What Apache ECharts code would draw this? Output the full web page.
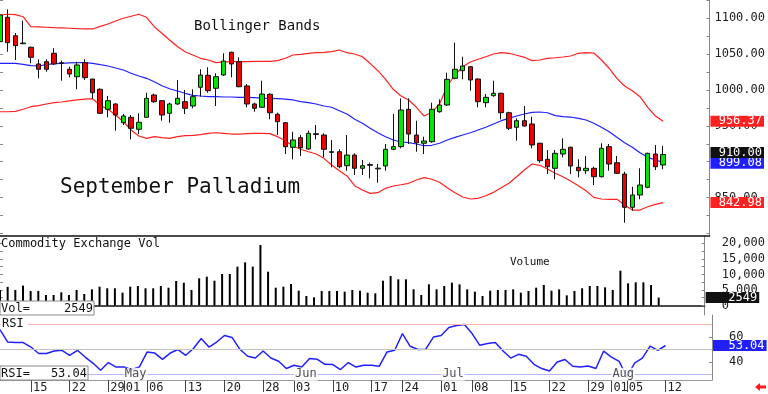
<!DOCTYPE html>
<html><head><meta charset="utf-8">
<script src="https://cdn.jsdelivr.net/npm/echarts@6/dist/echarts.min.js"></script>
<style>html,body{margin:0;padding:0;background:#fff}#c{width:768px;height:394px}</style>
</head><body><div id="c"></div>
<script>
const dates = ['04-09','04-10','04-11','04-12','04-15','04-16','04-17','04-18','04-19','04-22','04-23','04-24','04-25','04-26','04-29','04-30',
'05-01','05-02','05-03','05-06','05-07','05-08','05-09','05-10','05-13','05-14','05-15','05-16','05-17','05-20','05-21','05-22','05-23','05-24','05-28','05-29','05-30','05-31',
'06-03','06-04','06-05','06-06','06-07','06-10','06-11','06-12','06-13','06-14','06-17','06-18','06-20','06-21','06-24','06-25','06-26','06-27','06-28',
'07-01','07-02','07-03','07-05','07-08','07-09','07-10','07-11','07-12','07-15','07-16','07-17','07-18','07-19','07-22','07-23','07-24','07-25','07-26','07-29','07-30','07-31',
'08-01','08-02','08-05','08-06','08-07','08-08','08-09','08-12','08-13','08-14','08-15','08-16','08-19','08-20'];

const opens = [1067.4,1101.4,1075.7,1064.5,1059.6,1036.3,1039.5,1051.2,1037.0,1028.9,1018.5,1038.1,1015.3,1001.0,973.1,980.5,954.4,961.9,945.2,961.9,
993.0,985.1,967.5,980.5,983.7,977.7,1003.8,1020.5,1002.4,1020.9,1052.6,1039.5,1005.6,980.5,975.9,994.0,966.1,954.4,920.1,933.5,
917.7,939.0,937.2,913.0,913.9,894.4,909.3,890.8,896.0,890.0,894.0,917.3,921.0,973.1,937.2,925.7,927.9,969.7,979.1,1016.3,
1026.9,1032.5,1015.3,982.3,992.0,995.4,968.3,948.0,957.2,952.6,925.7,903.3,890.8,910.7,920.1,892.2,887.4,890.8,879.1,921.0,
898.6,882.8,836.4,853.6,864.3,910.7,895.4];
const highs = [1114.0,1112.5,1079.5,1096.7,1060.4,1042.8,1042.8,1058.2,1040.9,1032.5,1039.5,1042.8,1015.3,1002.4,991.6,981.5,966.5,965.1,967.5,996.2,
995.0,986.0,982.3,1014.0,1000.0,1001.0,1028.9,1031.7,1023.3,1051.2,1053.4,1045.6,1008.4,982.3,1013.0,995.4,968.3,955.0,941.8,937.2,
943.2,951.2,939.6,930.3,917.3,937.2,911.7,902.4,898.6,896.8,924.7,966.5,988.4,988.4,957.2,934.9,982.3,987.0,1024.1,1066.0,
1046.4,1033.0,1016.0,994.4,1013.0,996.2,969.7,960.5,977.7,962.8,926.5,916.3,916.3,932.6,921.0,903.3,908.0,893.0,925.7,924.7,
908.0,886.0,865.1,890.8,912.6,923.3,921.9];
const lows = [1062.8,1053.4,1041.8,1064.0,1037.2,1016.3,1025.5,1034.9,1013.0,1017.7,1001.0,1014.0,987.9,966.5,961.9,943.2,951.2,931.2,938.6,961.9,
982.0,957.2,954.4,979.1,966.5,974.5,990.7,996.2,977.7,1019.5,1017.7,1003.8,975.9,969.7,975.9,959.1,937.2,910.7,903.3,908.0,
917.0,931.2,906.1,892.2,890.8,887.4,881.5,881.5,876.8,870.7,887.4,916.3,918.7,924.7,913.9,910.7,926.5,968.3,977.7,1014.9,
1014.9,999.0,975.9,975.9,990.7,959.1,944.2,929.3,948.8,918.7,898.6,882.8,875.5,906.1,882.8,878.2,882.8,867.5,878.0,887.4,
882.8,814.9,831.7,847.6,862.9,888.4,889.4];
const closes = [1104.6,1066.0,1061.8,1065.5,1045.6,1028.9,1028.9,1036.3,1038.0,1022.3,1034.9,1017.2,996.2,967.5,985.1,965.1,963.7,946.6,955.0,988.4,
983.7,965.1,980.5,988.4,974.5,990.7,1020.9,999.0,1018.5,1040.4,1036.3,1004.6,980.5,974.5,994.4,968.3,955.8,920.9,930.3,919.5,
939.6,938.0,917.3,914.0,893.0,909.3,890.8,894.4,895.0,891.0,917.3,921.0,972.1,938.6,926.5,928.9,973.1,979.1,1014.9,1028.9,
1033.5,1014.0,983.7,989.8,995.4,968.3,946.6,957.2,949.8,923.3,901.4,893.0,911.7,917.3,894.0,887.4,890.8,879.1,918.7,896.8,
883.8,836.4,853.6,867.5,911.7,893.0,910.0];

const bbUpper = [1104.6,1105.6,1105.0,1102.2,1088.3,1087.9,1087.5,1086.9,1086.5,1086.1,1085.5,1085.1,1085.1,1088.8,1092.1,1096.2,1100.0,1102.8,1105.6,1101.4,
1088.3,1079.1,1069.7,1060.7,1053.4,1048.8,1044.2,1041.8,1038.1,1039.1,1039.5,1039.5,1039.5,1040.0,1040.0,1040.0,1040.9,1044.2,1048.8,1049.8,
1051.2,1052.0,1052.6,1053.4,1055.8,1052.0,1050.2,1046.4,1037.2,1026.9,1014.9,1001.0,991.6,986.1,975.9,963.7,968.9,980.5,1005.6,1020.9,
1032.5,1039.1,1042.8,1046.4,1050.2,1052.0,1051.2,1048.4,1045.6,1040.9,1041.8,1044.2,1045.0,1046.0,1047.4,1051.2,1052.0,1051.6,1041.8,1030.3,
1016.3,1005.6,999.0,990.7,975.9,963.7,956.37];
const bbMid = [1037.2,1037.2,1037.2,1035.8,1033.9,1033.5,1035.3,1036.7,1037.2,1037.7,1038.1,1038.1,1037.2,1035.3,1033.5,1030.7,1027.9,1023.3,1019.5,1016.3,
1011.6,1006.0,1001.8,998.6,995.4,992.6,991.6,990.7,990.7,990.2,990.2,989.8,989.8,989.3,988.8,988.4,987.9,987.4,986.1,983.7,
982.3,980.5,977.7,975.9,971.1,966.5,959.1,953.6,946.6,940.4,934.9,930.3,927.5,926.5,924.7,922.3,922.9,925.7,930.3,934.0,
937.2,940.4,944.2,948.0,952.6,957.2,960.5,963.7,966.5,968.9,969.3,968.3,964.2,962.8,962.3,960.5,958.2,953.6,948.0,941.8,
934.0,926.5,920.1,912.6,906.1,902.4,899.08];
const bbLower = [969.7,969.7,970.3,973.1,976.7,978.1,980.5,982.3,983.3,984.7,986.1,987.4,987.9,978.7,973.1,965.1,955.8,944.2,935.8,932.6,
934.9,933.5,932.6,934.9,936.3,936.8,937.7,939.6,940.4,939.6,938.6,938.6,939.1,939.6,939.6,939.1,934.9,929.3,921.9,917.3,
913.9,910.7,904.7,895.4,887.4,880.1,866.5,860.5,855.9,856.8,862.9,866.1,867.9,869.9,874.5,877.7,875.5,871.3,863.7,856.8,
850.8,848.0,849.0,852.6,857.3,863.7,869.9,879.1,888.4,896.8,895.0,889.8,883.8,879.1,873.1,866.5,859.6,850.3,848.0,847.6,
847.6,839.6,832.6,832.6,837.2,840.6,842.98];

const volume = [5000,6000,5000,6400,4660,4660,3380,3380,4240,3380,5000,3700,5200,6050,5530,5530,4120,6050,6270,5530,
5530,6270,5730,7880,7340,5000,8740,9270,7980,10130,10130,12480,13880,12480,19450,10870,5730,6050,6910,4760,
3050,2640,4660,4660,4660,4450,5000,4760,4120,3920,7980,9490,8420,8420,5200,3380,6810,5200,6270,7340,
6810,5200,4450,3050,4760,5000,5000,5200,4120,4660,5730,6600,4760,5200,3270,4660,5530,6270,6270,5840,
5000,11190,7130,7450,7450,6600,2549];

const rsi = [65.8,55.8,55.4,55.4,51.8,46.6,46.6,48.6,49.2,45.2,49.2,43.8,39.0,33.2,39.4,35.8,35.8,33.8,35.8,47.8,
47.0,42.0,47.0,49.8,45.2,50.6,58.6,51.8,55.8,61.0,59.4,50.0,44.4,43.0,48.6,43.0,40.4,34.6,37.2,35.8,
42.6,42.0,38.0,37.8,33.8,39.4,35.8,37.2,37.2,36.4,47.8,49.2,62.6,52.4,49.8,50.0,59.8,61.0,67.4,69.0,
69.8,62.6,53.2,54.6,55.4,48.6,43.0,46.0,44.4,38.0,34.6,32.6,39.8,41.8,36.4,35.8,36.6,34.6,48.6,43.8,
40.4,28.0,39.0,43.0,52.6,49.2,53.04];

const tickDates = ['04-15','04-22','04-29','05-01','05-06','05-13','05-20','05-28','06-03','06-10','06-17','06-24',
'07-01','07-08','07-15','07-22','07-29','08-01','08-05','08-12'];
const monthLabels = [['05-01','May'],['06-03','Jun'],['07-01','Jul'],['08-01','Aug']];
const priceLabels = [850,900,950,1000,1050,1100];
const priceMinorTicks = [800,825,850,875,900,925,950,975,1000,1025,1050,1075,1100,1125];
const volLabels = [0,5000,10000,15000,20000];
const volMinorTicks = [0,2500,5000,7500,10000,12500,15000,17500,20000,22500];
const rsiLabels = [40,60];
const rsiLevels = [70,50,30];

const FONT = '"DejaVu Sans Mono", monospace';
const last = closes.length - 1;
const pad7 = v => String(v).padStart(7, ' ');

const candleData = opens.map((o, i) => [o, closes[i], lows[i], highs[i]]);

function endLabel(value, bg, txt, offsetY) {
  return {
    yAxis: value,
    lineStyle: { color: 'rgba(0,0,0,0)', width: 0 },
    label: {
      show: true, position: 'end', distance: 1,
      formatter: pad7(txt),
      color: '#fff', backgroundColor: bg,
      fontFamily: FONT, fontSize: 12, lineHeight: 11,
      padding: [0, 2, 0, 1],
      offset: [0, offsetY || 0]
    }
  };
}

const chart = echarts.init(document.getElementById('c'), null, { renderer: 'canvas' });

const axisTxt = { fontFamily: FONT, fontSize: 12, color: '#222' };

const option = {
  animation: false,
  backgroundColor: '#fff',
  grid: [
    { left: 0, top: 0, width: 712, height: 236 },
    { left: 0, top: 236, width: 712, height: 79 },
    { left: 0, top: 315, width: 712, height: 65 }
  ],
  xAxis: [0, 1, 2].map(g => ({
    type: 'category', gridIndex: g, data: dates, boundaryGap: false,
    axisLine: { show: true, lineStyle: { color: g < 2 ? '#111' : '#999', width: g < 2 ? 1.5 : 1 } },
    axisTick: g < 2 ? { show: false } : {
      show: true, length: 12, lineStyle: { color: '#444' },
      interval: (idx, val) => tickDates.indexOf(val) >= 0
    },
    axisLabel: g < 2 ? { show: false } : {
      show: true, align: 'left', margin: 2, padding: [0, 0, 0, 2],
      fontFamily: FONT, fontSize: 12, color: '#222',
      interval: (idx, val) => tickDates.indexOf(val) >= 0,
      formatter: v => v.slice(3)
    },
    splitLine: { show: false }
  })),
  yAxis: [
    { gridIndex: 0, position: 'right', min: 796.4, max: 1125.5,
      axisLine: { show: true, lineStyle: { color: '#888' } },
      axisTick: { show: true, inside: true, length: 3, customValues: priceMinorTicks, lineStyle: { color: '#888' } },
      axisLabel: Object.assign({ customValues: priceLabels, margin: 5, formatter: v => Number(v).toFixed(2) }, axisTxt),
      splitLine: { show: false } },
    { gridIndex: 0, position: 'left', min: 796.4, max: 1125.5,
      axisLine: { show: false },
      axisTick: { show: true, inside: true, length: 3, customValues: priceMinorTicks, lineStyle: { color: '#888' } },
      axisLabel: { show: false }, splitLine: { show: false } },
    { gridIndex: 1, position: 'right', min: -3055, max: 22350,
      axisLine: { show: true, lineStyle: { color: '#888' } },
      axisTick: { show: true, inside: true, length: 3, customValues: volMinorTicks, lineStyle: { color: '#888' } },
      axisLabel: Object.assign({ customValues: volLabels, margin: 17 }, axisTxt),
      splitLine: { show: false } },
    { gridIndex: 1, position: 'left', min: -3055, max: 22350,
      axisLine: { show: false },
      axisTick: { show: true, inside: true, length: 3, customValues: volMinorTicks, lineStyle: { color: '#888' } },
      axisLabel: { show: false }, splitLine: { show: false } },
    { gridIndex: 2, position: 'right', min: 25.44, max: 77.44,
      axisLine: { show: true, lineStyle: { color: '#888' } },
      axisTick: { show: true, inside: true, length: 3, customValues: [30, 40, 50, 60, 70], lineStyle: { color: '#888' } },
      axisLabel: Object.assign({ customValues: rsiLabels, margin: 17 }, axisTxt),
      splitLine: { show: false } }
  ],
  series: [
    { type: 'line', name: 'upper', xAxisIndex: 0, yAxisIndex: 0, data: bbUpper, symbol: 'none', clip: false,
      lineStyle: { color: '#ff2020', width: 1.2 }, z: 2,
      markLine: { silent: true, symbol: 'none', animation: false,
        data: [endLabel(bbUpper[last], '#ff2020', bbUpper[last].toFixed(2))] } },
    { type: 'line', name: 'mid', xAxisIndex: 0, yAxisIndex: 0, data: bbMid, symbol: 'none', clip: false,
      lineStyle: { color: '#2020ff', width: 1.2 }, z: 2,
      markLine: { silent: true, symbol: 'none', animation: false,
        data: [endLabel(bbMid[last], '#2020ff', bbMid[last].toFixed(2), 1)] } },
    { type: 'line', name: 'lower', xAxisIndex: 0, yAxisIndex: 0, data: bbLower, symbol: 'none', clip: false,
      lineStyle: { color: '#ff2020', width: 1.2 }, z: 2,
      markLine: { silent: true, symbol: 'none', animation: false,
        data: [endLabel(bbLower[last], '#ff2020', bbLower[last].toFixed(2))] } },
    { type: 'candlestick', xAxisIndex: 0, yAxisIndex: 0, data: candleData, barWidth: 5, clip: false, z: 5,
      itemStyle: { color: '#00e600', color0: '#f00000', borderColor: '#111', borderColor0: '#111', borderWidth: 1 },
      markLine: { silent: true, symbol: 'none', animation: false,
        data: [endLabel(closes[last], '#111', closes[last].toFixed(2), -2)] } },
    { type: 'bar', xAxisIndex: 1, yAxisIndex: 2, data: volume, barWidth: 2, clip: false,
      itemStyle: { color: '#000' },
      markLine: { silent: true, symbol: 'none', animation: false,
        data: [endLabel(volume[last], '#111', String(volume[last]))] } },
    { type: 'line', xAxisIndex: 2, yAxisIndex: 4, data: rsi, symbol: 'none', clip: false,
      lineStyle: { color: '#2020ff', width: 1.5 }, z: 3,
      markLine: { silent: true, symbol: 'none', animation: false,
        data: [
          { yAxis: rsiLevels[0], lineStyle: { color: '#ffb4b4', width: 1, type: 'solid' }, label: { show: false } },
          { yAxis: rsiLevels[1], lineStyle: { color: '#c4c4c4', width: 1, type: 'solid' }, label: { show: false } },
          { yAxis: rsiLevels[2], lineStyle: { color: '#b4b4ff', width: 1, type: 'solid' }, label: { show: false } },
          endLabel(rsi[last], '#2020ff', rsi[last].toFixed(2))
        ] } },
    { type: 'scatter', xAxisIndex: 2, yAxisIndex: 4, symbolSize: 0, z: 6, silent: true,
      data: monthLabels.map(m => ({ name: m[1], value: [m[0], rsiLevels[2]] })),
      label: { show: true, position: 'right', distance: 0, formatter: '{b}',
        backgroundColor: '#fff', padding: [1, 1, 0, 1], fontFamily: FONT, fontSize: 12, color: '#222' } }
  ],
  graphic: [
    { type: 'text', x: 194, y: 26.7, z: 100, style: { text: 'Bollinger Bands', font: '14px ' + FONT, fill: '#111', verticalAlign: 'middle' } },
    { type: 'text', x: 60, y: 188, z: 100, style: { text: 'September Palladium', font: '21px ' + FONT, fill: '#111', verticalAlign: 'middle' } },
    { type: 'text', x: 1, y: 243.5, z: 100, style: { text: 'Commodity Exchange Vol', font: '12px ' + FONT, fill: '#111', verticalAlign: 'middle' } },
    { type: 'text', x: 510, y: 262, z: 100, style: { text: 'Volume', font: '11px ' + FONT, fill: '#111', verticalAlign: 'middle' } },
    { type: 'rect', z: 100, shape: { x: 0, y: 301, width: 94, height: 14 }, style: { fill: '#fff', stroke: '#888', lineWidth: 1 } },
    { type: 'text', x: 1, y: 308.5, z: 101, style: { text: 'Vol=', font: '12px ' + FONT, fill: '#111', verticalAlign: 'middle' } },
    { type: 'text', x: 93, y: 308.5, z: 101, style: { text: String(volume[last]), font: '12px ' + FONT, fill: '#111', align: 'right', verticalAlign: 'middle' } },
    { type: 'text', x: 1, y: 323.5, z: 100, style: { text: 'RSI', font: '12px ' + FONT, fill: '#111', verticalAlign: 'middle', backgroundColor: '#fff', padding: [1, 4, 1, 1] } },
    { type: 'rect', z: 100, shape: { x: 0, y: 366, width: 88, height: 14 }, style: { fill: '#fff', stroke: '#888', lineWidth: 1 } },
    { type: 'text', x: 1, y: 373.5, z: 101, style: { text: 'RSI=', font: '12px ' + FONT, fill: '#111', verticalAlign: 'middle' } },
    { type: 'text', x: 87, y: 373.5, z: 101, style: { text: rsi[last].toFixed(2), font: '12px ' + FONT, fill: '#111', align: 'right', verticalAlign: 'middle' } },
    { type: 'polygon', z: 100, shape: { points: [[755, 387], [760, 383], [760, 385.5], [766, 385.5], [766, 388.5], [760, 388.5], [760, 391]] }, style: { fill: '#ff1a1a' } }
  ]
};
chart.setOption(option);
</script>
</body></html>
